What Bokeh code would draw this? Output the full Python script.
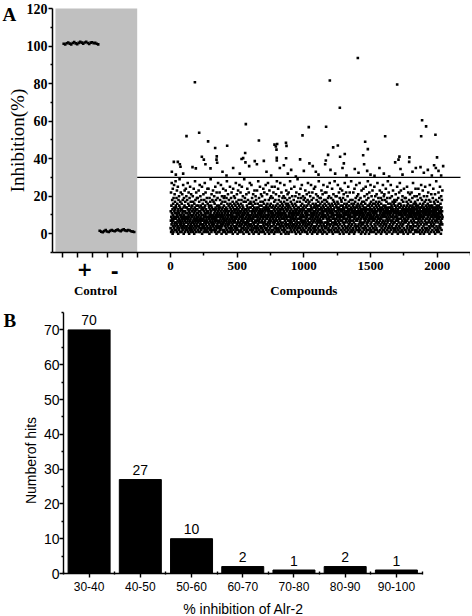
import numpy as np
from bokeh.plotting import figure
from bokeh.models import Range1d, FixedTicker, BoxAnnotation
from bokeh.layouts import column
from bokeh.embed import file_html
from bokeh.resources import INLINE
from bokeh.core.properties import value

# ---------------- Panel A data ----------------
positive_control = [101.2, 100.8, 101.5, 101.9, 101.3, 100.9, 101.6, 102.1, 101.4, 101.0, 101.7, 102.2,
                    101.8, 101.3, 101.9, 102.3, 101.6, 101.1, 101.8, 102.0, 101.5, 101.7, 101.2, 100.9]
negative_control = [1.6, 1.1, 0.8, 1.4, 1.9, 1.2, 0.9, 1.5, 2.0, 1.6, 1.3, 1.8,
                    2.2, 1.7, 1.4, 1.9, 2.3, 1.8, 1.5, 2.0, 1.7, 1.3, 1.1, 0.9]
control_ticks = [0, 1, 2, 3, 4, 5]
control_labels = ["+", "-"]
threshold = 30

# compounds with inhibition >= 30 % (hits)
hit_compound = [
    1405,
    183, 1195,
    1700,
    1270, 1887,
    1917, 565, 1037, 1167, 120, 215, 990, 1880, 1987, 1610,
    282, 663, 1460, 425, 335, 780, 790, 800, 795, 866, 870, 1220, 1255, 1480, 1307, 1182, 1272, 1445,
    1717, 1792, 1999, 235, 347, 545, 797, 867, 560,
    25, 55, 70, 75, 10, 40, 95, 165, 190, 250,
    262, 300, 345, 350, 390, 420, 470, 520, 533, 562,
    590, 632, 648, 700, 720, 755, 797, 820, 850, 880,
    905, 940, 972, 1000, 1042, 1067, 1090, 1110, 1160, 1165,
    1200, 1235, 1290, 1300, 1320, 1382, 1410, 1452, 1475, 1500,
    1530, 1567, 1600, 1640, 1685, 1710, 1725, 1740, 1790, 1815,
    1840, 1875, 1900, 1930, 1960, 1977, 1990, 2010, 2030, 2045,
]
hit_inhibition = [
    93.6,
    80.7, 81.6,
    79.5,
    67.1, 60.5,
    57.2, 58.4, 56.8, 57.0, 52.0, 53.8, 52.4, 51.9, 52.7, 51.9,
    49.2, 49.7, 49.0, 46.9, 45.7, 47.5, 46.5, 47.8, 44.8, 48.5, 46.8, 46.0, 47.0, 45.1, 42.5, 42.0, 41.0, 41.8,
    41.1, 40.7, 40.7, 41.0, 41.2, 40.3, 40.4, 40.2, 43.0,
    38.3, 38.3, 37.0, 35.7, 33.0, 31.5, 32.0, 35.5, 34.8, 39.5,
    37.0, 34.8, 39.5, 37.8, 33.0, 31.0, 35.0, 32.0, 39.8, 38.0,
    36.0, 38.7, 37.0, 38.8, 33.0, 31.0, 39.0, 35.0, 36.5, 32.0,
    34.0, 30.5, 39.6, 33.5, 37.5, 36.0, 33.0, 31.5, 37.0, 39.0,
    34.0, 32.0, 35.0, 37.5, 31.0, 34.5, 32.5, 37.0, 33.5, 31.5,
    30.8, 35.0, 32.0, 30.5, 38.0, 39.5, 34.5, 31.5, 38.3, 33.0,
    35.0, 35.5, 32.5, 34.0, 31.0, 36.5, 35.0, 33.5, 31.0, 36.0,
]

# inhibition (%) of the remaining compounds, in compound order (1, 2, 3, ...)
inactive_inhibition = [
    3,12,7,22,1,9,15,5,27,11,2,8,18,6,13,0,24,10,4,16,7,1,19,9,14,3,26,8,12,5,21,2,11,17,6,13,4,28,9,15,
    8,2,14,6,19,11,1,23,5,10,16,3,7,12,25,4,9,0,13,18,6,2,11,20,8,15,3,29,7,10,1,14,5,17,12,4,22,9,6,13,
    10,5,1,16,8,13,3,21,7,11,2,18,9,4,26,12,6,14,0,10,19,5,8,3,15,23,7,1,12,9,17,4,11,2,24,6,14,8,20,3,
    6,14,9,2,18,4,11,7,27,13,1,8,16,5,10,22,3,12,9,0,15,6,19,2,11,7,25,4,13,8,1,17,10,5,21,3,14,9,6,12,
    2,9,15,4,12,7,20,1,10,17,6,13,3,24,8,11,5,0,16,9,2,14,7,28,4,12,18,6,10,1,13,8,22,3,15,5,11,19,7,9,
    13,4,8,19,2,11,6,15,9,1,23,7,12,4,17,10,3,14,26,5,8,1,12,20,6,9,15,3,11,7,2,18,13,5,10,25,0,8,14,4,
    7,16,3,10,5,13,21,8,1,12,9,4,18,6,14,2,27,11,7,15,3,10,22,5,9,1,13,17,6,8,2,12,19,4,11,7,24,3,16,9,
    11,1,12,6,24,3,9,15,5,14,8,0,19,10,2,13,7,17,4,11,29,6,9,3,15,12,1,21,8,5,14,10,2,18,7,13,4,9,23,6,
    4,10,17,2,8,13,5,20,11,3,16,7,1,12,9,25,6,14,2,10,18,4,8,13,0,22,7,11,3,15,9,5,19,1,12,6,27,10,4,14,
    9,3,13,7,15,1,11,22,6,10,4,18,2,14,8,12,5,26,9,3,16,7,0,13,10,20,4,11,6,17,2,9,14,5,24,8,1,12,7,19,
    15,6,2,10,20,8,13,4,11,1,17,9,5,23,12,3,7,14,0,19,6,10,28,2,13,8,16,4,11,5,21,9,1,12,7,15,3,18,10,6,
    5,12,8,1,14,25,3,10,16,7,2,13,9,19,4,11,6,22,1,8,15,3,12,10,5,17,0,14,7,24,9,2,11,6,13,20,4,9,16,8,
    12,7,19,3,9,1,15,6,11,27,4,13,8,2,17,10,5,21,14,3,9,12,0,16,6,11,23,7,2,13,18,4,10,8,15,1,26,5,12,9,
    1,14,6,11,22,4,9,16,2,12,7,18,3,10,25,5,13,8,1,15,11,6,20,3,9,14,7,0,17,12,4,10,29,2,8,13,5,19,11,6,
    8,11,3,17,6,13,1,9,21,5,12,2,15,10,7,24,4,14,8,1,18,11,6,3,13,9,22,5,16,0,10,7,12,4,27,9,2,14,8,17,
    14,2,10,5,16,8,26,3,12,7,1,19,11,4,9,15,6,13,2,21,8,10,0,17,5,12,3,14,9,23,6,11,1,16,7,4,13,20,10,3,
    6,18,9,12,2,14,7,4,23,10,1,13,8,16,5,11,3,28,9,14,6,0,12,19,7,2,10,15,4,11,25,8,13,1,17,6,9,3,21,12,
    10,4,15,1,11,7,20,9,3,13,6,17,2,12,8,24,5,10,14,1,16,9,4,22,11,6,13,0,18,7,3,12,9,26,5,14,10,2,15,8,
    3,13,8,21,5,10,16,1,12,6,27,9,4,14,11,2,18,7,13,0,10,23,5,15,8,3,12,19,6,9,1,16,11,4,20,7,14,2,10,25,
    12,9,1,14,4,19,8,11,6,15,2,22,10,5,13,7,0,17,9,3,25,12,6,14,1,10,18,4,8,11,21,3,15,7,2,13,9,28,5,11,
    7,1,16,10,3,12,24,6,14,9,2,18,11,5,20,8,13,1,15,4,10,7,27,12,3,17,9,6,13,0,11,22,5,14,8,2,16,10,4,19,
    2,15,11,6,13,4,9,20,1,12,8,17,3,26,10,5,14,7,19,2,11,9,0,16,6,13,4,23,10,8,15,1,12,5,18,9,3,21,14,7,
    16,5,9,13,0,22,7,11,4,15,10,1,19,6,12,3,28,9,14,5,8,17,2,11,7,24,13,4,10,6,16,1,20,9,3,12,8,15,5,11,
    9,12,4,18,7,2,14,10,25,5,13,8,1,16,11,3,20,6,12,9,0,15,4,22,10,7,13,2,17,5,11,8,29,3,14,6,10,1,19,12,
    4,8,14,1,11,21,6,13,3,17,9,5,12,0,24,10,7,15,2,19,8,13,4,11,26,6,9,16,1,12,3,14,7,20,10,5,13,2,18,9,
    13,6,2,15,9,4,19,11,7,1,23,12,5,14,8,3,17,10,6,12,1,21,9,4,15,11,0,18,7,13,27,5,10,2,16,8,12,3,22,6,
    5,17,10,3,13,8,1,20,6,12,15,4,9,26,11,2,14,7,18,5,10,0,13,22,8,3,16,11,6,9,1,19,12,4,14,24,7,10,2,15,
    11,3,14,8,25,1,12,6,16,9,4,21,13,2,10,18,7,15,5,11,0,14,8,20,3,12,9,6,17,1,13,28,4,10,7,15,2,19,11,6,
    8,13,2,16,5,11,19,9,1,14,7,23,4,12,10,3,17,6,13,0,21,9,15,2,11,8,26,5,14,10,1,18,12,4,9,16,6,22,3,13,
    1,10,18,6,12,3,15,9,22,4,13,8,0,17,11,5,25,7,14,2,10,19,6,12,3,16,9,1,20,8,13,5,11,27,4,15,7,2,12,9,
    14,7,11,2,19,9,5,13,1,16,10,24,6,12,3,15,8,0,18,11,4,21,9,13,6,2,17,10,5,14,28,8,1,12,7,16,3,20,10,5,
    6,12,3,15,8,20,1,11,14,5,9,17,2,13,26,7,10,4,16,12,1,9,22,6,14,3,11,8,19,0,13,5,10,24,7,15,2,12,9,18,
    10,2,17,9,13,4,23,7,12,1,15,6,11,19,3,14,8,0,21,10,5,13,9,16,2,12,27,6,11,4,18,8,14,1,10,7,22,3,15,11,
    3,16,8,12,1,14,6,20,10,4,13,9,25,2,11,7,17,5,12,0,15,9,3,22,8,13,6,10,1,18,11,4,14,7,28,9,2,16,12,5,
    12,5,13,1,18,9,3,11,15,7,22,2,14,10,6,16,0,12,8,24,4,13,11,1,17,9,5,14,19,3,10,7,26,12,2,15,8,11,4,20,
    7,14,10,4,16,2,12,21,8,13,5,1,18,11,9,3,15,27,6,12,10,2,14,7,19,4,11,8,0,16,13,5,23,9,1,12,6,17,10,3,
    15,1,9,13,5,11,24,3,14,8,17,6,10,2,20,12,7,13,4,0,16,9,11,25,3,14,8,12,1,18,6,10,5,21,13,2,9,15,7,28,
    4,11,6,19,2,13,8,15,0,10,22,7,12,3,16,9,14,1,11,26,5,13,8,17,2,10,6,20,12,4,15,9,1,13,23,7,11,3,16,8,
    9,18,3,12,7,14,1,10,25,5,16,11,2,13,8,20,4,12,9,6,15,0,17,11,3,21,7,14,10,2,12,27,5,9,16,1,13,8,19,6,
    13,6,15,8,1,17,10,4,12,23,7,14,2,11,9,5,19,13,0,16,8,12,3,22,10,6,14,1,18,9,4,11,26,7,13,2,15,10,5,20,
    2,12,9,21,6,10,14,3,18,11,1,15,7,13,24,4,9,12,5,17,0,11,8,14,2,19,10,6,13,28,3,12,7,16,9,1,22,11,4,14,
    11,8,1,14,10,5,19,12,3,16,7,26,9,13,2,11,6,15,4,20,12,0,9,14,7,17,3,10,23,5,13,8,1,16,11,6,12,2,18,9,
    6,15,12,3,17,9,2,13,21,7,11,4,14,1,10,18,8,12,5,25,9,3,15,11,0,13,7,19,2,12,6,16,10,4,22,8,14,1,11,27,
    14,3,10,16,5,12,8,23,1,11,15,6,9,2,18,13,4,10,7,20,12,1,14,9,5,17,11,0,13,3,24,8,15,6,10,2,19,12,7,11,
    8,10,2,13,19,6,14,1,11,9,17,4,12,25,7,15,3,10,13,0,16,8,22,5,12,9,2,14,11,18,6,1,13,10,4,21,9,15,3,12,
    1,13,17,7,11,4,10,22,9,14,2,12,6,19,15,3,11,8,27,5,13,0,10,16,7,12,4,14,9,20,2,11,6,17,13,1,10,24,8,15,
    16,4,11,9,2,14,20,6,12,1,13,10,5,18,8,3,15,11,24,7,12,1,9,14,4,21,10,6,13,2,16,8,11,0,19,12,5,14,9,26,
    10,7,14,1,12,18,3,9,15,6,11,23,2,13,8,16,4,10,12,0,20,9,14,5,11,17,1,13,7,25,3,12,10,6,15,2,18,11,8,13,
    5,12,8,20,3,14,10,1,16,9,13,6,22,11,2,15,7,12,4,18,10,0,14,8,26,3,11,13,6,17,9,1,15,12,5,21,10,4,14,7,
    12,9,15,2,11,6,19,13,4,10,24,8,14,1,12,17,5,11,9,3,16,13,7,21,0,10,14,6,12,2,18,9,28,11,4,15,8,13,1,10,
    7,14,3,11,17,9,2,13,6,22,10,15,1,12,8,19,4,14,11,5,25,9,12,3,16,7,13,0,11,20,6,14,2,10,18,8,12,5,23,9,
]
compound_ticks = [0, 500, 1000, 1500, 2000]
compound_minor_ticks = [250, 750, 1250, 1750, 2250]
inhibition_ticks = [0, 20, 40, 60, 80, 100, 120]
inhibition_minor_ticks = [-10, 10, 30, 50, 70, 90, 110]

# ---------------- Panel B data ----------------
bins = ["30-40", "40-50", "50-60", "60-70", "70-80", "80-90", "90-100"]
hits = [70, 27, 10, 2, 1, 2, 1]
hit_ticks = [0, 10, 20, 30, 40, 50, 60, 70]
hit_minor_ticks = [5, 15, 25, 35, 45, 55, 65, 75]

SERIF = "Liberation Serif"
SANS = "Liberation Sans"
W = 470
A_H, B_H = 300, 315


# ---- layout helpers: page pixel -> data coordinate (the plot frame fills each figure) ----
def ax_(px):  # panel A, page column -> compound axis
    return -1275.0 + 7.5 * px


def ay_(py):  # panel A, page row -> inhibition axis (rows 8..252 hold 120..-10)
    return -10.0 + (252.0 - py) * 130.0 / 244.0


def bx_(px):  # panel B, page column -> category axis (63..421.5 hold 0.5..7.5)
    return 0.5 + (px - 63.0) * 7.0 / 358.5


def by_(py):  # panel B, page row -> hits axis (rows 312..573 hold 75..0)
    return (573.0 - py) * 75.0 / 261.0


CTRL0, CTRL_UNIT = -812.25, 112.5  # control wells share the compound axis


def ctrl_x(k):
    return CTRL0 + CTRL_UNIT * np.asarray(k, dtype=float)


def put_text(p, x, y, text, font, size, style="normal", angle=0.0, align="center", baseline="middle"):
    p.text(x=[float(x)], y=[float(y)], text=[text], angle=angle, text_font=value(font),
           text_font_size=size, text_font_style=style, text_align=align,
           text_baseline=baseline, text_color="black")


def style_axis(ax, font, size, bold, tick_out, minor_out, standoff, width=1.5):
    ax.axis_line_width = width
    ax.axis_line_color = "black"
    ax.major_tick_line_width = width
    ax.minor_tick_line_width = width
    ax.major_tick_line_color = "black"
    ax.minor_tick_line_color = "black"
    ax.major_tick_in = 0
    ax.major_tick_out = tick_out
    ax.minor_tick_out = minor_out
    ax.major_label_text_font = font
    ax.major_label_text_font_size = size
    ax.major_label_text_font_style = "bold" if bold else "normal"
    ax.major_label_text_color = "black"
    ax.major_label_standoff = standoff


# ================= Panel A =================
pa = figure(width=W, height=A_H, output_backend="svg", toolbar_location=None,
            x_range=Range1d(ax_(0), ax_(W)), y_range=Range1d(ay_(A_H), ay_(0)),
            min_border=0)
pa.frame_align = False
pa.outline_line_color = None
pa.xgrid.visible = False
pa.ygrid.visible = False

XA_LO, XA_HI = ax_(52), ax_(W)
pa.add_layout(BoxAnnotation(left=float(ctrl_x(-0.45)), right=float(ctrl_x(5)), bottom=-10, top=120,
                            fill_color="#c0c0c0", fill_alpha=1.0, line_color=None,
                            level="underlay"))

n_pos = len(positive_control)
n_neg = len(negative_control)
pos_wells = np.arange(1, n_pos + 1)
neg_wells = np.arange(n_pos + 1, n_pos + n_neg + 1)
MK = 2.6
pa.scatter(ctrl_x(0.1 * pos_wells), positive_control, marker="square", size=MK,
           fill_color="black", line_color=None)
pa.scatter(ctrl_x(0.1 * neg_wells), negative_control, marker="square", size=MK,
           fill_color="black", line_color=None)

compound_no = np.arange(1, len(inactive_inhibition) + 1)
pa.scatter(compound_no, inactive_inhibition, marker="square", size=MK,
           fill_color="black", line_color=None)
pa.scatter(hit_compound, hit_inhibition, marker="square", size=MK,
           fill_color="black", line_color=None)

pa.segment(x0=[float(ctrl_x(5))], y0=[threshold], x1=[2175], y1=[threshold],
           line_color="black", line_width=1.3)

ctrl_tick_pos = [float(v) for v in ctrl_x(control_ticks)]
xa = pa.xaxis[0]
xa.fixed_location = -10
xa.bounds = (XA_LO, XA_HI)
xa.ticker = FixedTicker(ticks=ctrl_tick_pos + compound_ticks, minor_ticks=compound_minor_ticks)
xa.major_label_overrides = {t: "" for t in ctrl_tick_pos}
style_axis(xa, SERIF, "13px", True, 5, 3, 4)
ya = pa.yaxis[0]
ya.fixed_location = XA_LO
ya.bounds = (-10, 120)
ya.ticker = FixedTicker(ticks=inhibition_ticks, minor_ticks=inhibition_minor_ticks)
style_axis(ya, SERIF, "14px", True, 4, 2, 1)

put_text(pa, ax_(2), ay_(14), "A", SERIF, "19px", "bold", align="left")
put_text(pa, ax_(17), ay_(140), "Inhibition(%)", SERIF, "19px", angle=np.pi / 2)
put_text(pa, ctrl_x(1.5), ay_(268), control_labels[0], "DejaVu Sans", "19px", "bold")
put_text(pa, ctrl_x(3.5), ay_(270), control_labels[1], "DejaVu Sans", "19px", "bold")
put_text(pa, ctrl_x(2.22), ay_(290), "Control", SERIF, "13px", "bold")
put_text(pa, 1000.0, ay_(290), "Compounds", SERIF, "13px", "bold")

# ================= Panel B =================
xpos = list(range(1, len(bins) + 1))
pb = figure(width=W, height=B_H, output_backend="svg", toolbar_location=None,
            x_range=Range1d(bx_(0), bx_(W)), y_range=Range1d(by_(A_H + B_H), by_(A_H)),
            min_border=0)
pb.frame_align = False
pb.outline_line_color = None
pb.xgrid.visible = False
pb.ygrid.visible = False

pb.vbar(x=xpos, top=hits, width=0.82, fill_color="black", line_color="black")
LABEL_GAP = 4.5 * 75.0 / 261.0  # 4.5 px above each bar, in axis units
pb.text(x=xpos, y=[h + LABEL_GAP for h in hits], text=[str(h) for h in hits], text_align="center",
        text_baseline="bottom", text_font=value(SANS),
        text_font_size="14px", text_color="black")

xb = pb.xaxis[0]
xb.fixed_location = 0
xb.bounds = (0.5, len(bins) + 0.5)
xb.ticker = FixedTicker(ticks=xpos, minor_ticks=[p - 0.5 for p in xpos] + [len(bins) + 0.5])
xb.major_label_overrides = {p: b for p, b in zip(xpos, bins)}
style_axis(xb, SANS, "12px", False, 4, 1, 4, width=1.4)
xb.minor_tick_in = 2
yb = pb.yaxis[0]
yb.fixed_location = 0.5
yb.bounds = (0, 75)
yb.ticker = FixedTicker(ticks=hit_ticks, minor_ticks=hit_minor_ticks)
style_axis(yb, SANS, "14px", False, 4, 2, 0, width=1.4)
yb.minor_tick_in = 0

put_text(pb, bx_(3), by_(320), "B", SERIF, "19px", "bold", align="left")
put_text(pb, bx_(30), by_(460), "Numberof hits", SANS, "14px", angle=np.pi / 2)
put_text(pb, bx_(243), by_(608), "% inhibition of Alr-2", SANS, "14px")

layout = column(pa, pb)
open("out.html", "w").write(file_html(layout, INLINE))
